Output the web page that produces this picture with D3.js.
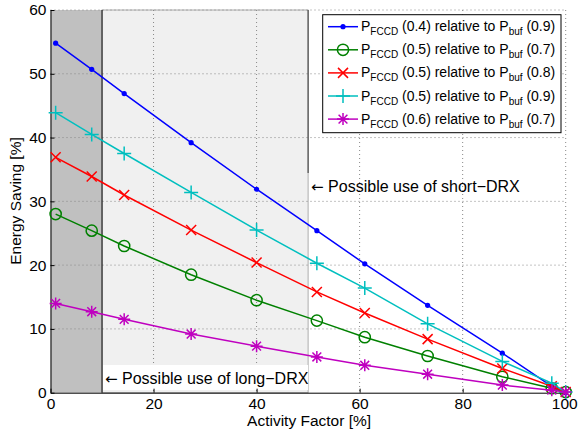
<!DOCTYPE html>
<html>
<head>
<meta charset="utf-8">
<script src="https://cdn.jsdelivr.net/npm/d3@7"></script>
<style>
  body { margin: 0; background: #fff; }
  svg { font-family: "Liberation Sans", Arial, sans-serif; }
</style>
</head>
<body>
<div id="chart"></div>
<script>
// activity factor values (x) shared by all series
const actividad = [1, 8, 14.3, 27.3, 40, 51.7, 61, 73.2, 87.7, 97.3, 100];
// energy saving per series
const serieAzul = [54.8, 50.7, 46.9, 39.2, 31.9, 25.4, 20.2, 13.7, 6.2, 1.0, 0];
const serieVerde = [28.0, 25.4, 23.0, 18.5, 14.5, 11.3, 8.7, 5.75, 2.5, 0.7, 0.1];
const serieRoja = [36.9, 33.9, 31.0, 25.5, 20.4, 15.8, 12.5, 8.4, 3.8, 1.0, 0.1];
const serieCian = [43.9, 40.5, 37.5, 31.4, 25.5, 20.3, 16.4, 10.8, 4.9, 1.5, 0.1];
const serieMagenta = [14.0, 12.7, 11.5, 9.2, 7.3, 5.6, 4.3, 2.9, 1.2, 0.4, 0.1];
const pFCCD = ["0.4", "0.5", "0.5", "0.5", "0.6"];
const pBuf = ["0.9", "0.7", "0.8", "0.9", "0.7"];
const xTicks = [0, 20, 40, 60, 80, 100];
const yTicks = [0, 10, 20, 30, 40, 50, 60];
// shaded regions (activity factor ranges)
const zonaLarga = [0, 10];
const zonaCorta = [10, 50];

const series = [
  {vals: serieAzul, color: "#0000ff", marker: "dot"},
  {vals: serieVerde, color: "#008000", marker: "circle"},
  {vals: serieRoja, color: "#ff0000", marker: "x"},
  {vals: serieCian, color: "#00bfbf", marker: "plus"},
  {vals: serieMagenta, color: "#bf00bf", marker: "star"}
];

const W = 578, H = 432;
const margin = {top: 10, right: 12.3, bottom: 39.3, left: 50.5};
const width = W - margin.left - margin.right;
const height = H - margin.top - margin.bottom;

const svg = d3.select("#chart").append("svg")
  .attr("width", W).attr("height", H);
const g = svg.append("g")
  .attr("transform", `translate(${margin.left},${margin.top})`);

const x = d3.scaleLinear().domain([0, 100]).range([0, width]);
const y = d3.scaleLinear().domain([0, 60]).range([height, 0]);

// shaded patches
g.append("rect")
  .attr("x", x(zonaCorta[0])).attr("y", 0)
  .attr("width", x(zonaCorta[1]) - x(zonaCorta[0])).attr("height", height)
  .attr("fill", "#f0f0f0").attr("stroke", "#999").attr("stroke-width", 0.8);
g.append("rect")
  .attr("x", x(zonaLarga[0])).attr("y", 0)
  .attr("width", x(zonaLarga[1]) - x(zonaLarga[0])).attr("height", height)
  .attr("fill", "#c0c0c0");

// texto con flecha (la flecha en DejaVu, más ancha)
function etiqueta(sel, px, py, texto) {
  const t = sel.append("text").attr("x", px).attr("y", py).attr("font-size", 16);
  t.append("tspan").attr("font-family", "DejaVu Sans").attr("font-size", 15).text("\u2190");
  t.append("tspan").text(" " + texto);
  return t;
}

// short-DRX label box (under the grid)
const cortaTxt = etiqueta(g, x(50) + 3, 181.5, "Possible use of short\u2212DRX");
const cb = cortaTxt.node().getBBox();
g.insert("rect", "text")
  .attr("x", cb.x - 2).attr("y", 163).attr("width", cb.width + 4).attr("height", 26)
  .attr("fill", "#fff");

// grid
g.append("g").selectAll("line").data(xTicks.filter(d => d > 0)).join("line")
  .attr("x1", d => x(d)).attr("x2", d => x(d)).attr("y1", 0).attr("y2", height)
  .attr("stroke", "#888").attr("stroke-dasharray", "1,3");
g.append("g").selectAll("line").data(yTicks.filter(d => d > 0)).join("line")
  .attr("x1", 0).attr("x2", width).attr("y1", d => y(d)).attr("y2", d => y(d))
  .attr("stroke", "#888").attr("stroke-dasharray", "1,3");

// boundary lines
g.append("line").attr("x1", x(10)).attr("x2", x(10)).attr("y1", 0).attr("y2", height)
  .attr("stroke", "#000");
g.append("line").attr("x1", x(50)).attr("x2", x(50)).attr("y1", 0).attr("y2", 163)
  .attr("stroke", "#333");

// long-DRX label box
g.append("rect")
  .attr("x", x(10) + 1).attr("y", 355).attr("width", x(50) - x(10) - 1).attr("height", 25)
  .attr("fill", "#fff");
etiqueta(g, x(10) + 3, 373.5, "Possible use of long\u2212DRX");

// axes
const xAxis = g.append("g").attr("transform", `translate(0,${height})`)
  .call(d3.axisBottom(x).tickValues(xTicks).tickSize(-4).tickPadding(5).tickSizeOuter(0));
const yAxis = g.append("g")
  .call(d3.axisLeft(y).tickValues(yTicks).tickSize(-4).tickPadding(4).tickSizeOuter(0));
[xAxis, yAxis].forEach(a => {
  a.selectAll("text").attr("font-size", 15.5).attr("fill", "#000")
    .attr("font-family", "Liberation Sans, Arial, sans-serif");
  a.selectAll("line, path").attr("stroke", "#000");
});
// keep "100" inside the page
xAxis.selectAll(".tick text").filter(d => d === 100).attr("dx", "-1.5");

// markers
function drawMarker(sel, tipo, color) {
  if (tipo === "dot") {
    sel.append("circle").attr("r", 2.6).attr("fill", color);
  } else if (tipo === "circle") {
    sel.append("circle").attr("r", 5.6).attr("fill", "none")
      .attr("stroke", color).attr("stroke-width", 1.5);
  } else if (tipo === "x") {
    const s = 5;
    sel.append("path").attr("d", `M${-s},${-s}L${s},${s}M${-s},${s}L${s},${-s}`)
      .attr("stroke", color).attr("stroke-width", 1.5);
  } else if (tipo === "plus") {
    const s = 7;
    sel.append("path").attr("d", `M${-s},0L${s},0M0,${-s}L0,${s}`)
      .attr("stroke", color).attr("stroke-width", 1.5);
  } else if (tipo === "star") {
    const s = 6, d = 4.4;
    sel.append("path")
      .attr("d", `M${-s},0L${s},0M0,${-s}L0,${s}M${-d},${-d}L${d},${d}M${-d},${d}L${d},${-d}`)
      .attr("stroke", color).attr("stroke-width", 1.5);
  }
}

const linea = d3.line().x(d => x(d[0])).y(d => y(d[1]));
series.forEach(s => {
  const pts = actividad.map((a, i) => [a, s.vals[i]]);
  g.append("path").datum(pts).attr("d", linea)
    .attr("fill", "none").attr("stroke", s.color).attr("stroke-width", 1.5);
  g.append("g").selectAll("g").data(pts).join("g")
    .attr("transform", d => `translate(${x(d[0])},${y(d[1])})`)
    .each(function() { drawMarker(d3.select(this), s.marker, s.color); });
});

// axis labels
svg.append("text").attr("x", margin.left + width / 2 + 1).attr("y", 426)
  .attr("text-anchor", "middle").attr("font-size", 15.5).text("Activity Factor [%]");
svg.append("text").attr("transform", `translate(21,201) rotate(-90)`)
  .attr("text-anchor", "middle").attr("font-size", 15.5).text("Energy Saving [%]");

// legend
const leg = svg.append("g");
leg.append("rect").attr("x", 322.7).attr("y", 14.7).attr("width", 238.3).attr("height", 118)
  .attr("fill", "#fff").attr("stroke", "#000").attr("stroke-width", 1);
series.forEach((s, i) => {
  const cy = 26.7 + i * 23.1;
  leg.append("line").attr("x1", 328).attr("x2", 358).attr("y1", cy).attr("y2", cy)
    .attr("stroke", s.color).attr("stroke-width", 1.5);
  const m = leg.append("g").attr("transform", `translate(343,${cy})`);
  drawMarker(m, s.marker, s.color);
  const t = leg.append("text").attr("x", 361).attr("y", cy + 4.5).attr("font-size", 14);
  t.append("tspan").text("P");
  t.append("tspan").attr("font-size", 10).attr("dy", 4).text("FCCD");
  t.append("tspan").attr("dy", -4).text(` (${pFCCD[i]}) relative to P`);
  t.append("tspan").attr("font-size", 10).attr("dy", 4).text("buf");
  t.append("tspan").attr("dy", -4).text(` (${pBuf[i]})`);
});
</script>
</body>
</html>
